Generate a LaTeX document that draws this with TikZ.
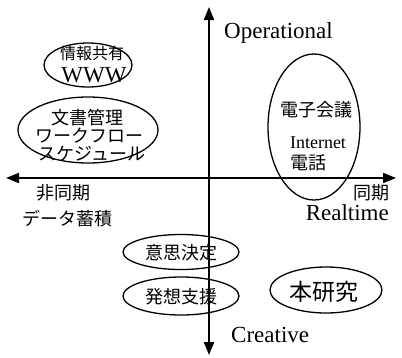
\documentclass[tikz,border=0pt]{standalone}
\usepackage{fontspec}
\setmainfont{Liberation Serif}
\newfontfamily\jp{Noto Sans CJK JP}
\usetikzlibrary{arrows.meta,shapes.geometric}
\begin{document}
\begin{tikzpicture}[x=1pt,y=-1pt,
  axis/.style={line width=2pt,{Triangle[length=13pt,width=10pt]}-{Triangle[length=13pt,width=10pt]}},
  oval/.style={draw,ellipse,line width=1.3pt,inner sep=0pt},
  jt/.style={font=\jp\fontsize{18}{20}\selectfont,inner sep=0pt},
  lt/.style={font=\fontsize{23}{25}\selectfont,inner sep=0pt},
  ls/.style={font=\fontsize{18}{20}\selectfont,inner sep=0pt}]
\useasboundingbox (0,0) rectangle (402,357);
% axes
\coordinate (top) at (209,7);
\coordinate (bot) at (209,355);
\coordinate (lft) at (6,178);
\coordinate (rgt) at (396,178);
\draw[axis] (bot) -- (top);
\draw[axis] (lft) -- (rgt);
% ellipses
\node[oval,minimum width=88pt,minimum height=44pt] (www) at (88,65) {};
\node[jt,font=\jp\fontsize{16}{18}\selectfont] (wwwa) at (92,53) {情報共有};
\node[lt] (wwwb) at (94,75) {WWW};
\node[oval,minimum width=140pt,minimum height=66pt] (doc) at (88,130) {};
\node[jt] (doca) at (87,118) {文書管理};
\node[jt] (docb) at (89,136) {ワークフロー};
\node[jt] (docc) at (92,154) {スケジュール};
\node[oval,minimum width=92pt,minimum height=146pt] (conf) at (314,127) {};
\node[jt] (confa) at (316,110) {電子会議};
\node[ls] (confb) at (318,143) {Internet};
\node[jt,anchor=west] (confc) at (290,163) {電話};
\node[oval,minimum width=116pt,minimum height=35pt] (dec) at (181,252) {};
\node[jt] (deca) at (181,253) {意思決定};
\node[oval,minimum width=116pt,minimum height=38pt] (idea) at (181,296) {};
\node[jt] (ideaa) at (181,297) {発想支援};
\node[oval,minimum width=112pt,minimum height=46pt] (own) at (326,290) {};
\node[jt,font=\jp\fontsize{23}{25}\selectfont] (owna) at (324,292) {本研究};
% axis labels
\node[lt,anchor=west] (op) at (224,33) {Operational};
\node[lt,anchor=west] (cr) at (231,335) {Creative};
\node[lt,anchor=east] (rt) at (389,213) {Realtime};
\node[jt,anchor=east] (sync) at (390,193) {同期};
\node[jt,anchor=west] (async) at (36,193) {非同期};
\node[jt,anchor=west] (data) at (22,219) {データ蓄積};
\end{tikzpicture}
\end{document}
